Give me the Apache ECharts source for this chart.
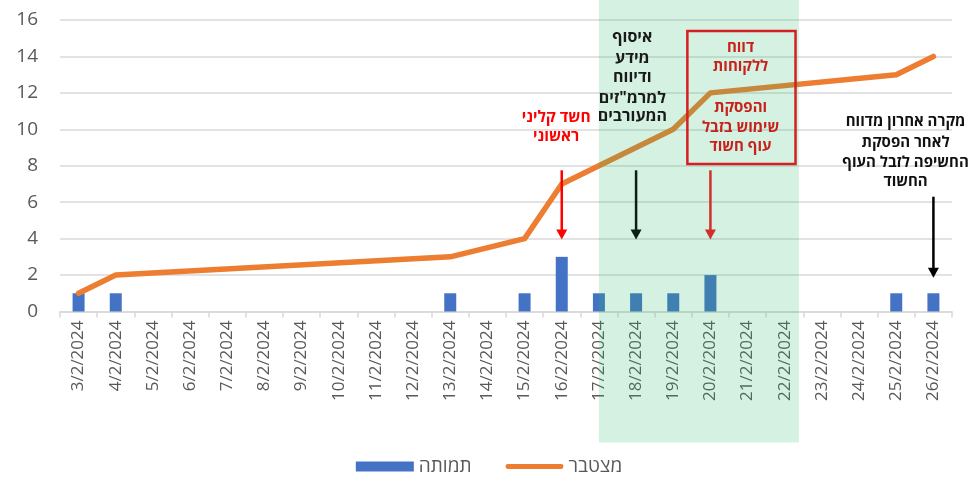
<!DOCTYPE html>
<html>
<head>
<meta charset="utf-8">
<script src="https://cdn.jsdelivr.net/npm/echarts@6/dist/echarts.min.js"></script>
<style>html,body{margin:0;padding:0;background:#fff}#c{width:978px;height:483px}</style>
</head>
<body>
<div id="c"></div>
<script>
const categories = ['3/2/2024','4/2/2024','5/2/2024','6/2/2024','7/2/2024','8/2/2024','9/2/2024','10/2/2024','11/2/2024','12/2/2024','13/2/2024','14/2/2024','15/2/2024','16/2/2024','17/2/2024','18/2/2024','19/2/2024','20/2/2024','21/2/2024','22/2/2024','23/2/2024','24/2/2024','25/2/2024','26/2/2024'];
const deaths = [1,1,null,null,null,null,null,null,null,null,1,null,1,3,1,1,1,2,null,null,null,null,1,1];
const cumulative = [1,2,null,null,null,null,null,null,null,null,3,null,4,7,8,9,10,12,null,null,null,null,13,14];
const seriesNames = ['תמותה','מצטבר'];
const yTicks = {min:0, max:16, interval:2};

const FONT = "'Open Sans', 'DejaVu Sans', 'Liberation Sans', sans-serif";
const chart = echarts.init(document.getElementById('c'));
chart.setOption({
  animation:false,
  textStyle:{fontFamily:FONT},
  grid:{left:60, right:26, top:20, bottom:171.5, containLabel:false},
  legend:{
    data:[{name:seriesNames[0], icon:'rect'}, {name:seriesNames[1], icon:'path://M2,0 L58,0 A2.5,2.5 0 0 1 58,5 L2,5 A2.5,2.5 0 0 1 2,0 Z'}],
    bottom:2, left:'center', itemWidth:58, itemHeight:10, itemGap:34,
    textStyle:{fontSize:19, color:'#595959', fontFamily:FONT}
  },
  xAxis:{
    type:'category', data:categories, boundaryGap:true,
    axisLine:{lineStyle:{color:'#d9d9d9', width:1.5}},
    axisTick:{show:true, length:6, lineStyle:{color:'#d9d9d9', width:1.5}},
    axisLabel:{rotate:90, fontSize:17, color:'#595959', margin:9, interval:0, fontFamily:FONT}
  },
  yAxis:{
    type:'value', min:yTicks.min, max:yTicks.max, interval:yTicks.interval,
    axisLine:{show:false}, axisTick:{show:false},
    splitLine:{lineStyle:{color:'#d9d9d9', width:1.5}},
    axisLabel:{fontSize:19, color:'#595959', margin:22, fontFamily:FONT}
  },
  series:[
    {name:seriesNames[0], type:'bar', data:deaths, barWidth:12, itemStyle:{color:'#4472C4'}},
    {name:seriesNames[1], type:'line', data:cumulative, connectNulls:true, showSymbol:false, symbol:'none',
     lineStyle:{color:'#ED7D31', width:5.5, cap:'round', join:'round'}, itemStyle:{color:'#ED7D31'}, z:3}
  ]
});

function X(i){
  const a = chart.convertToPixel({xAxisIndex:0}, 0);
  const b = chart.convertToPixel({xAxisIndex:0}, 1);
  return a + i*(b-a);
}
function Y(v){ return chart.convertToPixel({yAxisIndex:0}, v); }

function arrow(xi, v0, v1, color){
  const x = X(xi), y0 = Y(v0), y1 = Y(v1);
  return [
    {type:'line', z:30, shape:{x1:x, y1:y0, x2:x, y2:y1-9}, style:{stroke:color, lineWidth:2.5}},
    {type:'polygon', z:30, shape:{points:[[x-5.5,y1-10],[x+5.5,y1-10],[x,y1]]}, style:{fill:color}}
  ];
}
function lines(xi, vals, texts, color, size, weight){
  return texts.map((t, k) => ({type:'text', z:30, x:X(xi), y:Y(vals[k]), style:{text:t, fill:color, fontSize:size,
    fontWeight:weight, fontFamily:FONT, align:'center', verticalAlign:'middle'}}));
}

const g = [];
// shaded period
g.push({type:'rect', z:20, shape:{x:X(14), y:0, width:X(19.38)-X(14), height:Y(0)+131}, style:{fill:'rgba(46,184,104,0.2)'}});
g.push(...arrow(13, 7.75, 3.95, '#ff0000'));
g.push(...arrow(15, 7.75, 3.95, '#0b1f12'));
g.push(...arrow(17, 7.75, 3.95, '#d0302a'));
g.push(...arrow(23, 6.3, 1.85, '#000000'));
g.push(...lines(12.85, [10.62, 9.58], ['חשד קליני','ראשוני'], '#ff0000', 15.5, 'bold'));
g.push(...lines(14.9, [15.07, 13.91, 12.82, 11.72, 10.68], ['איסוף','מידע','ודיווח','למרמ"זים','המעורבים'], '#1a1a1a', 16, 'bold'));
g.push({type:'rect', z:31, shape:{x:X(16.38), y:Y(15.4), width:X(19.29)-X(16.38), height:Y(8.1)-Y(15.4)},
  style:{fill:'none', stroke:'#d42020', lineWidth:2.5}});
g.push(...lines(17.81, [14.46, 13.42, 11.17, 10.07, 9.03], ['דווח','ללקוחות','והפסקת','שימוש בזבל','עוף חשוד'], '#c8201a', 15, 'bold'));
g.push(...lines(22.25, [10.40, 9.25, 8.15, 7.11], ['מקרה אחרון מדווח','לאחר הפסקת','החשיפה לזבל העוף','החשוד'], '#111111', 15, 'bold'));
chart.setOption({graphic:g});
</script>
</body>
</html>
